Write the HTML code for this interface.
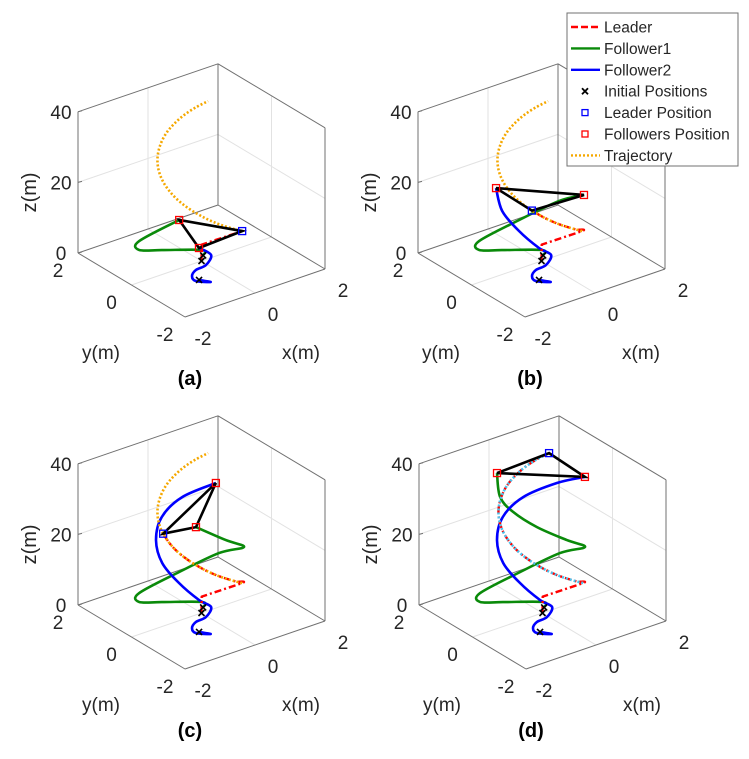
<!DOCTYPE html>
<html><head><meta charset="utf-8"><style>
body{margin:0;background:#fff}
svg{display:block;font-family:"Liberation Sans",Arial,sans-serif}
</style></head><body>
<svg id="chart" width="749" height="759" viewBox="0 0 749 759" xmlns="http://www.w3.org/2000/svg"></svg>
<script>
// ---- data (x, y, z in metres) ----
const leaderX = [0, 0.02, 0.5, 0.242, -0.035, -0.309, -0.559, -0.766, -0.914, -0.99, -0.99, -0.914, -0.766, -0.559, -0.309, -0.035, 0.242, 0.5, 0.719];
const leaderY = [0, 0.02, -0.866, -0.97, -0.999, -0.951, -0.829, -0.643, -0.407, -0.139, 0.139, 0.407, 0.643, 0.829, 0.951, 0.999, 0.97, 0.866, 0.695];
const leaderZ = [0, 4.5, 10.7, 12.5, 14.3, 16.1, 17.95, 19.8, 21.6, 23.4, 25.2, 27.0, 28.8, 30.6, 32.5, 34.3, 36.1, 37.9, 39.7];
const trajX = leaderX.slice(2), trajY = leaderY.slice(2), trajZ = leaderZ.slice(2);
const f1X = [0.2, 0.24, -0.6, -1.12, -1.17, -0.34, 0.42, 0.74, 0.3, -0.28, -0.68, -0.89, -0.65];
const f1Y = [0.2, 0.29, 0.69, 0.87, 0.8, 0.39, -0.1, -0.62, -0.52, -0.16, 0.21, 0.42, 0.85];
const f1Z = [0, 1, 2, 3, 6, 11, 16, 19, 22, 26, 30, 34, 38];
const f2X = [-0.62, -0.47, -0.71, -0.63, -0.37, -0.04, 0.25, -0.08, -0.57, -0.91, -0.97, -0.7, -0.26, 0.35, 0.83];
const f2Y = [-0.72, -0.96, -0.72, -0.47, -0.28, -0.22, -0.03, -0.01, 0.1, 0.28, 0.43, 0.57, 0.38, -0.08, -0.5];
const f2Z = [0, 0, 0, 0, 0, 0, 1, 4, 10, 16, 22, 27, 32, 36, 38];
const panelLabels = ["(a)", "(b)", "(c)", "(d)"];
const leaderProgress = [2, 7, 10, 18];
const f1Progress = [5, 7, 9, 12];
const f2Progress = [7, 10, 13, 14];
const xTicks = [-2, 0, 2], yTicks = [-2, 0, 2], zTicks = [0, 20, 40];

const NS = "http://www.w3.org/2000/svg";
const svg = document.getElementById("chart");
function mk(tag, attrs, parent, text) {
  const e = document.createElementNS(NS, tag);
  for (const k in attrs) e.setAttribute(k, attrs[k]);
  if (text !== undefined) e.textContent = text;
  (parent || svg).appendChild(e);
  return e;
}
const offsets = [[185, 317], [525, 317], [185, 669], [526, 669]];

function smoothD(pts, sharpUntil) {
  let d = "M" + pts[0][0].toFixed(1) + "," + pts[0][1].toFixed(1);
  for (let i = 0; i < pts.length - 1; i++) {
    const p0 = pts[Math.max(0, i - 1)], p1 = pts[i], p2 = pts[i + 1], p3 = pts[Math.min(pts.length - 1, i + 2)];
    if (i < sharpUntil) { d += "L" + p2[0].toFixed(1) + "," + p2[1].toFixed(1); continue; }
    const c1 = [p1[0] + (p2[0] - p0[0]) / 6, p1[1] + (p2[1] - p0[1]) / 6];
    const c2 = [p2[0] - (p3[0] - p1[0]) / 6, p2[1] - (p3[1] - p1[1]) / 6];
    d += "C" + c1.map(v => v.toFixed(1)).join(",") + " " + c2.map(v => v.toFixed(1)).join(",") + " " + p2[0].toFixed(1) + "," + p2[1].toFixed(1);
  }
  return d;
}

offsets.forEach((o, p) => {
  const g = mk("g", {});
  
  
  const P = (x, y, z) => [o[0] + 35 * (x + 2) - 26.75 * (y + 2), o[1] - 12 * (x + 2) - 16 * (y + 2) - 3.53 * z];
  const line = (a, b, col, w) => mk("line", {x1: a[0], y1: a[1], x2: b[0], y2: b[1], stroke: col, "stroke-width": w}, g);
  const gc = "#e2e2e2";
  zTicks.forEach(z => { if (z > 0 && z < 40) { line(P(-2, 2, z), P(2, 2, z), gc, 1); line(P(2, 2, z), P(2, -2, z), gc, 1); } });
  xTicks.forEach(x => { if (x > -2 && x < 2) { line(P(x, 2, 0), P(x, -2, 0), gc, 1); line(P(x, 2, 0), P(x, 2, 40), gc, 1); } });
  yTicks.forEach(y => { if (y > -2 && y < 2) { line(P(-2, y, 0), P(2, y, 0), gc, 1); line(P(2, y, 0), P(2, y, 40), gc, 1); } });
  const bc = "#707070";
  [[[-2,2,0],[-2,2,40]],[[-2,2,40],[2,2,40]],[[2,2,40],[2,2,0]],[[2,2,40],[2,-2,40]],[[2,-2,40],[2,-2,0]],
   [[-2,2,0],[-2,-2,0]],[[-2,-2,0],[2,-2,0]],[[-2,2,0],[2,2,0]],[[2,2,0],[2,-2,0]]].forEach(e => line(P(...e[0]), P(...e[1]), bc, 1));
  const lab = (txt, pt, dx, dy, name) => {
    const t = mk("text", {x: pt[0] + dx, y: pt[1] + dy, "font-size": 19, fill: "#262626", "text-anchor": "middle"}, g, txt);
    
    
  };
  zTicks.forEach(z => { const q = P(-2, 2, z); line(q, [q[0] + 4, q[1] - 1], bc, 1); lab(String(z), q, -17, 7, 'z-tick-label'); });
  yTicks.forEach(y => { const q = P(-2, y, 0); lab(String(y), q, -20, 24, 'y-tick-label'); });
  xTicks.forEach(x => { const q = P(x, -2, 0); lab(String(x), q, 18, 28, 'x-tick-label'); });
  const zl = P(-2, 2, 20);
  const zt = mk("text", {x: 0, y: 0, "font-size": 20, fill: "#262626", "text-anchor": "middle", transform: `translate(${zl[0]-42},${zl[1]+10}) rotate(-90)`}, g, "z(m)");
   
  lab("y(m)", P(-2, -2, 0), -84, 42, 'y-axis-title');
  lab("x(m)", P(-2, -2, 0), 116, 42, 'x-axis-title');
  const pl = mk("text", {x: o[0] + 5, y: o[1] + 68, "font-size": 20, "font-weight": "bold", fill: "#000", "text-anchor": "middle"}, g, panelLabels[p]);
   
  const path = (X, Y, Z, n, attrs, name, sharp) => {
    const pts = [];
    for (let i = 0; i <= n; i++) pts.push(P(X[i], Y[i], Z[i]));
    const e = mk("path", Object.assign({d: smoothD(pts, sharp), fill: "none", "stroke-linejoin": "round"}, attrs), g);
     
  };
  path(f1X, f1Y, f1Z, f1Progress[p], {stroke: "#0a8a0a", "stroke-width": 2.6}, 'follower1-path', 0);
  path(f2X, f2Y, f2Z, f2Progress[p], {stroke: "#0000ff", "stroke-width": 2.6}, 'follower2-path', 0);
  path(leaderX, leaderY, leaderZ, leaderProgress[p], {stroke: "#ff0000", "stroke-width": 2.4, "stroke-dasharray": "7,3,2,3"}, 'leader-path', 2);
  path(trajX, trajY, trajZ, trajX.length - 1, {stroke: p === 3 ? "#4cc4ee" : "#f5a800", "stroke-width": 2.6, "stroke-dasharray": "2,2"}, 'trajectory', 0);
  [[leaderX[0], leaderY[0], leaderZ[0]], [f1X[0], f1Y[0], f1Z[0]], [f2X[0], f2Y[0], f2Z[0]]].forEach(v => {
    const q = P(...v);
    const m = mk("path", {d: `M${q[0]-3},${q[1]-3}L${q[0]+3},${q[1]+3}M${q[0]+3},${q[1]-3}L${q[0]-3},${q[1]+3}`, stroke: "#000", "stroke-width": 1.6}, g);
     
  });
  const L = P(leaderX[leaderProgress[p]], leaderY[leaderProgress[p]], leaderZ[leaderProgress[p]]);
  const A = P(f1X[f1Progress[p]], f1Y[f1Progress[p]], f1Z[f1Progress[p]]);
  const B = P(f2X[f2Progress[p]], f2Y[f2Progress[p]], f2Z[f2Progress[p]]);
  const tri = mk("polygon", {points: [L, A, B].map(q => q.join(",")).join(" "), fill: "none", stroke: "#000", "stroke-width": 2.6}, g);
   
  const sq = (q, col, name) => { const r = mk("rect", {x: q[0] - 3.5, y: q[1] - 3.5, width: 7, height: 7, fill: "none", stroke: col, "stroke-width": 1.3}, g);
      };
  sq(L, "#0000ff", 'leader-position-marker');
  sq(A, "#ff0000", 'follower1-position-marker');
  sq(B, "#ff0000", 'follower2-position-marker');
});

const lg = mk("g", {});
 
mk("rect", {x: 567, y: 13, width: 171, height: 153, fill: "#fff", stroke: "#707070", "stroke-width": 1}, lg);
const entries = [
  ["Leader", "line", {stroke: "#ff0000", "stroke-dasharray": "7,3"}],
  ["Follower1", "line", {stroke: "#0a8a0a"}],
  ["Follower2", "line", {stroke: "#0000ff"}],
  ["Initial Positions", "x", {}],
  ["Leader Position", "sq", {stroke: "#0000ff"}],
  ["Followers Position", "sq", {stroke: "#ff0000"}],
  ["Trajectory", "line", {stroke: "#f5a800", "stroke-dasharray": "2,2"}]];
entries.forEach((e, i) => {
  const y = 27 + i * 21.4;
  const eg = mk("g", {}, lg);
   
  if (e[1] === "line") mk("line", Object.assign({x1: 571, y1: y, x2: 600, y2: y, "stroke-width": 2.4}, e[2]), eg);
  else if (e[1] === "x") mk("path", {d: `M${582},${y-3}L${588},${y+3}M${588},${y-3}L${582},${y+3}`, stroke: "#000", "stroke-width": 1.8}, eg);
  else mk("rect", Object.assign({x: 582, y: y - 3, width: 6, height: 6, fill: "none", "stroke-width": 1.3}, e[2]), eg);
  mk("text", {x: 604, y: y + 5.5, "font-size": 15.5, fill: "#262626"}, eg, e[0]);
});
</script>
</body></html>
